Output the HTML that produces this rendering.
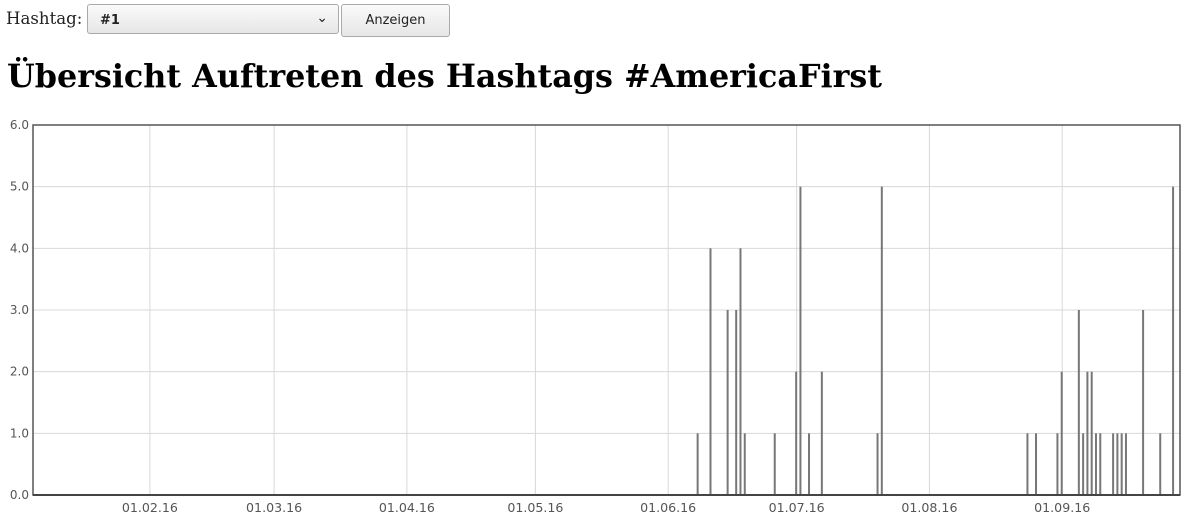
<!DOCTYPE html>
<html><head><meta charset="utf-8">
<style>
body{margin:0;background:#fff;width:1201px;height:528px;overflow:hidden;position:relative;font-family:"DejaVu Serif","Liberation Serif",serif}
#lbl{position:absolute;left:6px;top:9px;font-size:16.6px;color:#222}
#sel{position:absolute;left:87px;top:4px;width:252px;height:30px;border:1px solid #aaa;border-radius:3px;background:linear-gradient(#fafafa,#e6e6e6);box-sizing:border-box;font:bold 13px "DejaVu Sans",sans-serif;padding:8px 12px;color:#222}
#sel span{position:absolute;right:10px;top:5px;font-weight:normal;font-size:14px}
#btn{position:absolute;left:341px;top:4px;width:109px;height:33px;border:1px solid #aaa;border-radius:3px;background:linear-gradient(#fafafa,#e6e6e6);box-sizing:border-box;font:13px "DejaVu Sans",sans-serif;text-align:center;line-height:31px;color:#222}
h1{position:absolute;left:7px;top:58px;margin:0;font-size:31.8px;font-weight:bold;color:#000;white-space:nowrap}
svg{position:absolute;left:0;top:0}
</style></head><body>
<div id="lbl">Hashtag:</div>
<div id="sel">#1<span>&#x2304;</span></div>
<div id="btn">Anzeigen</div>
<h1>Übersicht Auftreten des Hashtags #AmericaFirst</h1>
<svg id="chart" width="1201" height="528"></svg>
<script>
const dates=["2016-06-08","2016-06-11","2016-06-15","2016-06-17","2016-06-18","2016-06-19","2016-06-26","2016-07-01","2016-07-02","2016-07-04","2016-07-07","2016-07-20","2016-07-21","2016-08-24","2016-08-26","2016-08-31","2016-09-01","2016-09-05","2016-09-06","2016-09-07","2016-09-08","2016-09-09","2016-09-10","2016-09-13","2016-09-14","2016-09-15","2016-09-16","2016-09-20","2016-09-24","2016-09-27"];
const counts=[1,4,3,3,4,1,1,2,5,1,2,1,5,1,1,1,2,3,1,2,2,1,1,1,1,1,1,3,1,5];
const xTicks=["2016-02-01","2016-03-01","2016-04-01","2016-05-01","2016-06-01","2016-07-01","2016-08-01","2016-09-01"];
const xTickLabels=["01.02.16","01.03.16","01.04.16","01.05.16","01.06.16","01.07.16","01.08.16","01.09.16"];
const yTicks=[0,1,2,3,4,5,6];
const yTickLabels=["0.0","1.0","2.0","3.0","4.0","5.0","6.0"];
const domainStart="2016-01-04T17:00:00Z", domainEnd="2016-09-28T12:00:00Z";
const L=33,R=1180,T=125,B=495,yMax=6;
const t0=Date.parse(domainStart),t1=Date.parse(domainEnd);
const x=d=>L+(Date.parse(d+(d.length==10?"T00:00:00Z":""))-t0)/(t1-t0)*(R-L);
const y=v=>B-v/yMax*(B-T);
const svg=document.getElementById('chart');const NS="http://www.w3.org/2000/svg";
function mk(tag,a){const e=document.createElementNS(NS,tag);for(const k in a)e.setAttribute(k,a[k]);svg.appendChild(e);return e;}
yTicks.forEach((v,i)=>{
 const g=mk('line',{x1:L,x2:R,y1:y(v),y2:y(v),stroke:'#d8d8d8','stroke-width':1});
 
 
 const t=mk('text',{x:29,y:y(v)+4,'text-anchor':'end','font-size':12,fill:'#555','font-family':'DejaVu Sans,sans-serif'});
 t.textContent=yTickLabels[i];
 
 
});
xTicks.forEach((d,i)=>{
 const g=mk('line',{x1:x(d),x2:x(d),y1:T,y2:B,stroke:'#d8d8d8','stroke-width':1});
 
 
 const t=mk('text',{x:x(d),y:512,'text-anchor':'middle','font-size':12.6,fill:'#555','font-family':'DejaVu Sans,sans-serif'});
 t.textContent=xTickLabels[i];
 
 
});
dates.forEach((d,i)=>{
 const b=mk('rect',{x:x(d)-1.5,y:y(counts[i]),width:2,height:B-y(counts[i]),fill:'#777'});
 
 
});
const f=mk('rect',{x:L,y:T,width:R-L,height:B-T,fill:'none',stroke:'#555','stroke-width':1.5});


const ax=mk('line',{x1:L,x2:R,y1:B,y2:B,stroke:'#444','stroke-width':2});


</script>
</body></html>
